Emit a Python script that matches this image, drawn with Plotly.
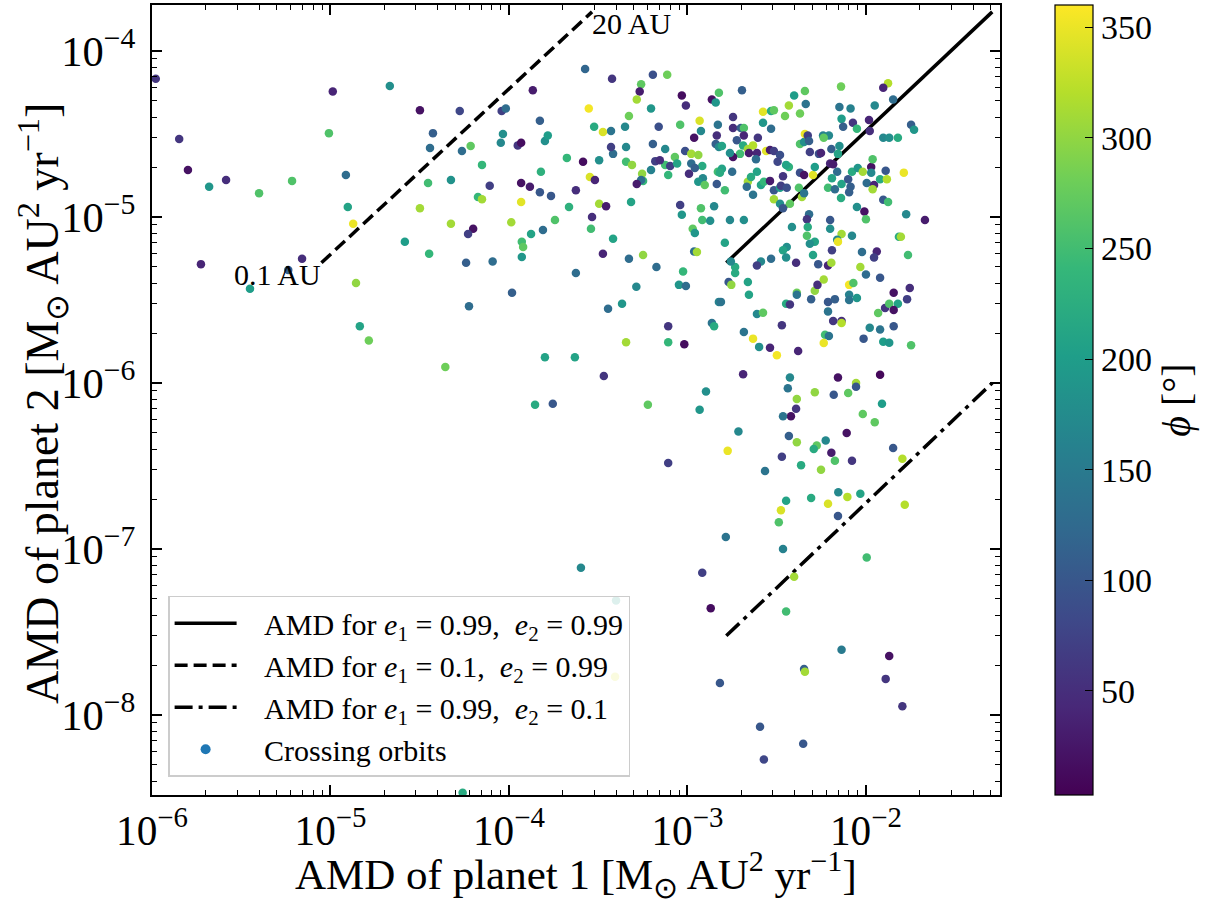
import math
import plotly.graph_objects as go

# AMD of planet 1 (x), AMD of planet 2 (y), phase angle phi (colour)
amd1 = [
    1.05e-6, 1.42e-6, 1.59e-6, 2.09e-6, 2.6e-6, 3.98e-6, 6.09e-6, 1.03e-5, 9.8e-6, 1.22e-5,
    1.25e-5, 1.34e-5, 2.15e-5, 3.17e-5, 3.75e-5, 3.61e-5, 3.52e-5, 3.17e-5, 2.61e-5, 3.57e-5,
    1.88e-6, 6.93e-6, 5.8e-6, 3.54e-6, 1.39e-5, 1.46e-5, 1.64e-5, 2.67e-4, 3.78e-4, 6.4e-4,
    7.7e-4, 5.5e-4, 5.4e-4, 5.2e-4, 4.7e-4, 6.25e-4, 9.3e-4, 9.8e-4, 1.37e-3, 1.44e-3,
    1.17e-3, 9.1e-4, 6.9e-4, 4.47e-4, 3.73e-4, 3.36e-4, 3.0e-4, 2.8e-4, 1.36e-4, 9.1e-5,
    9.6e-5, 5.3e-5, 1.49e-4, 5.45e-5, 6.1e-5, 9.0e-5, 9.25e-5, 1.12e-4, 1.17e-4, 1.59e-4,
    1.65e-4, 7.06e-5, 4.73e-5, 7.8e-5, 1.17e-4, 1.31e-4, 1.49e-4, 1.72e-4, 1.51e-4, 2.11e-4,
    2.6e-4, 3.2e-4, 3.83e-4, 3.73e-4, 4.53e-4, 4.53e-4, 4.89e-4, 5.57e-4, 6.25e-4, 6.4e-4,
    7.5e-4, 9.7e-4, 1.05e-3, 1.15e-3, 1.05e-3, 1.21e-3, 1.1e-3, 1.02e-3, 8.5e-4, 7.5e-4,
    6.6e-4, 7.0e-4, 8.0e-4, 8.75e-4, 7.8e-4, 1.22e-3, 1.15e-3, 1.25e-3, 1.46e-3, 1.48e-3,
    1.48e-3, 1.46e-3, 1.44e-3, 1.5e-3, 1.5e-3, 1.09e-3, 1.19e-3, 5.64e-4, 5.5e-4, 5.2e-4,
    2.84e-4, 3.03e-4, 2.37e-4, 4.83e-4, 3.2e-4, 3.5e-4, 2.17e-4, 1.81e-4, 1.17e-4, 1.03e-4,
    6.7e-5, 7.06e-5, 4.73e-5, 6.3e-5, 5.9e-5, 1.18e-4, 1.2e-4, 1.33e-4, 1.55e-4, 1.18e-4,
    8.1e-5, 5.75e-5, 2.92e-4, 2.88e-4, 3.83e-4, 3.36e-4, 4.7e-4, 5.64e-4, 9.1e-4, 9.3e-4,
    1.19e-3, 1.21e-3, 1.34e-3, 1.41e-3, 1.07e-3, 1.1e-3, 1.09e-3, 1.13e-3, 6.7e-4, 9.45e-4,
    2.37e-4, 8.96e-4, 9.8e-4, 5.17e-4, 1.04e-4, 5.97e-5, 3.59e-4, 4.3e-4, 1.5e-3, 7.8e-4,
    1.37e-3, 1.41e-3, 4.53e-4, 7.8e-4, 9.6e-4, 1.59e-4, 2.34e-4, 4.4e-5, 3.4e-4, 1.27e-3,
    1.4e-4, 1.76e-4, 6.0e-4, 1.17e-3, 7.8e-4, 2.53e-4, 3.98e-4, 1.21e-3, 1.35e-3, 3.93e-4,
    5.5e-5, 1.52e-3, 2.02e-3, 2.65e-3, 2.94e-3, 3.05e-3, 3.7e-3, 3.52e-3, 3.96e-3, 4.55e-3,
    4.6e-3, 4.27e-3, 7.25e-3, 1.33e-2, 1.25e-2, 1.42e-2, 1.12e-2, 7.1e-3, 8.2e-3, 7.3e-3,
    8.45e-3, 1.04e-2, 1.05e-2, 8.9e-3, 7.45e-3, 1.79e-2, 1.86e-2, 1.25e-2, 1.35e-2, 1.51e-2,
    1.8e-3, 1.8e-3, 1.99e-3, 2.07e-3, 2.65e-3, 2.94e-3, 2.07e-3, 1.89e-3, 2.48e-3, 1.56e-3,
    2.05e-3, 2.18e-3, 2.33e-3, 2.45e-3, 2.21e-3, 2.76e-3, 2.9e-3, 3.05e-3, 3.3e-3, 3.2e-3,
    2.42e-3, 1.97e-3, 1.8e-3, 1.73e-3, 1.56e-3, 1.52e-3, 1.78e-3, 1.62e-3, 1.73e-3, 2.07e-3,
    1.62e-3, 1.85e-3, 1.75e-3, 2.18e-3, 2.27e-3, 2.45e-3, 2.15e-3, 2.33e-3, 2.58e-3, 2.68e-3,
    2.9e-3, 3.43e-3, 3.7e-3, 3.57e-3, 3.05e-3, 3.3e-3, 3.34e-3, 3.6e-3, 3.05e-3, 3.3e-3,
    3.43e-3, 3.75e-3, 4.21e-3, 4.38e-3, 4.5e-3, 4.27e-3, 4.5e-3, 5.05e-3, 5.17e-3, 4.8e-3,
    4.67e-3, 4.72e-3, 4.67e-3, 3.85e-3, 4.27e-3, 4.5e-3, 4.55e-3, 4.72e-3, 4.8e-3, 4.85e-3,
    5.45e-3, 5.6e-3, 5.75e-3, 6.2e-3, 5.8e-3, 6.4e-3, 7.1e-3, 6.97e-3, 6.3e-3, 6.55e-3,
    6.9e-3, 6.45e-3, 6.13e-3, 6.7e-3, 7.3e-3, 7.95e-3, 8.35e-3, 9.0e-3, 9.6e-3, 1.07e-2,
    1.09e-2, 1.07e-2, 8.2e-3, 8.05e-3, 7.25e-3, 1.01e-2, 1.11e-2, 1.09e-2, 1.2e-2, 1.29e-2,
    1.31e-2, 1.63e-2, 8.9e-3, 9.8e-3, 1.0e-2, 1.25e-2, 1.33e-2, 1.68e-2, 2.14e-2, 6.3e-3,
    6.3e-3, 7.3e-3, 6.9e-3, 6.97e-3, 8.35e-3, 6.45e-3, 5.17e-3, 4.85e-3, 5.05e-3, 5.4e-3,
    6.13e-3, 6.4e-3, 9.3e-3, 9.5e-3, 1.15e-2, 1.11e-2, 1.53e-2, 1.57e-2, 1.72e-2, 3.6e-3,
    3.43e-3, 3.57e-3, 4.06e-3, 2.94e-3, 2.58e-3, 2.45e-3, 1.85e-3, 1.7e-3, 1.76e-3, 2.18e-3,
    2.21e-3, 1.54e-3, 2.45e-3, 2.65e-3, 2.07e-3, 2.33e-3, 2.52e-3, 2.9e-3, 3.17e-3, 4.17e-3,
    3.38e-3, 3.57e-3, 3.75e-3, 4.1e-3, 4.1e-3, 4.93e-3, 5.17e-3, 5.35e-3, 5.8e-3, 6.13e-3,
    6.7e-3, 6.13e-3, 6.55e-3, 7.3e-3, 7.3e-3, 5.9e-3, 6.2e-3, 5.8e-3, 8.05e-3, 8.5e-3,
    8.05e-3, 8.05e-3, 8.9e-3, 1.0e-2, 1.2e-2, 1.05e-2, 1.2e-2, 9.7e-3, 1.25e-2, 1.35e-2,
    1.17e-2, 1.28e-2, 1.35e-2, 1.43e-2, 1.51e-2, 1.43e-2, 1.7e-2, 1.76e-2, 1.43e-2, 1.79e-2,
    2.05e-3, 3.75e-3, 3.65e-3, 4.1e-3, 4.06e-3, 3.8e-3, 3.43e-3, 5.17e-3, 6.97e-3, 6.6e-3,
    7.95e-3, 8.8e-3, 8.8e-3, 1.2e-2, 1.23e-2, 9.6e-3, 1.12e-2, 1.93e-3, 3.7e-3, 4.1e-3,
    5.3e-3, 5.1e-3, 5.95e-3, 7.8e-3, 6.4e-3, 6.7e-3, 8.35e-3, 5.6e-3, 4.33e-3, 3.38e-3,
    2.72e-3, 1.68e-3, 1.42e-2, 1.6e-2, 7.0e-3, 7.87e-3, 9.3e-3, 4.93e-3, 6.13e-3, 3.57e-3,
    3.34e-3, 3.25e-3, 6.97e-3, 1.65e-2, 1.64e-3, 3.43e-3, 1.01e-2, 3.96e-3, 3.57e-3, 7.3e-3,
    1.35e-2, 4.5e-3, 4.55e-3, 1.29e-2, 1.6e-2, 2.55e-3, 4.45e-3, 2.68e-3,
]
amd2 = [
    6.8e-5, 2.95e-5, 1.92e-5, 1.52e-5, 1.67e-5, 1.39e-5, 1.65e-5, 5.7e-5, 3.2e-5, 1.79e-5,
    1.15e-5, 9.1e-6, 6.15e-5, 4.4e-5, 3.2e-5, 2.6e-5, 1.6e-5, 1.13e-5, 7.1e-6, 6.0e-6,
    5.2e-6, 5.6e-6, 4.8e-6, 3.7e-6, 4.0e-6, 2.2e-6, 1.8e-6, 7.8e-5, 6.8e-5, 7.2e-5,
    7.2e-5, 6.3e-5, 5.7e-5, 5.1e-5, 4.06e-5, 4.5e-5, 5.4e-5, 4.7e-5, 5.1e-5, 4.9e-5,
    3.8e-5, 3.6e-5, 3.5e-5, 3.5e-5, 3.3e-5, 3.25e-5, 3.5e-5, 4.5e-5, 5.8e-5, 4.35e-5,
    4.5e-5, 4.35e-5, 3.8e-5, 2.5e-5, 2.68e-5, 2.8e-5, 3.16e-5, 2.7e-5, 2.8e-5, 2.87e-5,
    3.1e-5, 2.06e-5, 1.67e-5, 1.54e-5, 1.6e-5, 1.52e-5, 1.41e-5, 1.34e-5, 1.87e-5, 2.27e-5,
    2.15e-5, 2.2e-5, 2.4e-5, 2.64e-5, 2.64e-5, 2.15e-5, 2.06e-5, 1.82e-5, 1.92e-5, 2.75e-5,
    2.57e-5, 2.5e-5, 2.4e-5, 2.36e-5, 2.1e-5, 2.03e-5, 1.97e-5, 1.82e-5, 2.3e-5, 2.06e-5,
    2.17e-5, 2.2e-5, 2.03e-5, 2.1e-5, 1.79e-5, 1.71e-5, 1.63e-5, 1.56e-5, 1.58e-5, 1.87e-5,
    3.6e-5, 3.1e-5, 2.75e-5, 2.64e-5, 5.6e-5, 3.0e-5, 3.3e-5, 1.65e-5, 1.67e-5, 1.58e-5,
    1.74e-5, 1.67e-5, 1.45e-5, 1.23e-5, 1.2e-5, 1.16e-5, 1.15e-5, 9.6e-6, 1.23e-5, 9.3e-6,
    1.32e-5, 1.28e-5, 9.1e-6, 8.5e-6, 7.9e-6, 7.1e-6, 6.6e-6, 7.9e-6, 8.35e-6, 5.74e-6,
    5.4e-6, 5.3e-6, 1.0e-5, 8.5e-6, 7.4e-6, 6.0e-6, 5.6e-6, 5.9e-6, 1.18e-5, 1.03e-5,
    1.13e-5, 9.6e-6, 9.5e-6, 1.16e-5, 8.5e-6, 8.0e-6, 6.2e-6, 6.15e-6, 5.0e-6, 4.7e-6,
    4.6e-6, 3.9e-6, 3.84e-6, 3.8e-6, 3.5e-6, 2.9e-6, 2.8e-6, 3.0e-6, 3.08e-6, 2.2e-6,
    2.3e-6, 2.2e-6, 1.76e-6, 1.76e-6, 1.71e-6, 1.43e-6, 1.43e-6, 1.25e-6, 1.1e-6, 8.9e-7,
    7.4e-7, 7.5e-7, 7.4e-7, 6.9e-7, 3.3e-7, 7.7e-8, 4.9e-8, 7.2e-8, 4.4e-8, 1.7e-8,
    3.4e-9, 1.56e-8, 5.8e-5, 4.3e-5, 4.35e-5, 4.4e-5, 4.7e-5, 4.06e-5, 5.4e-5, 5.74e-5,
    4.8e-5, 4.2e-5, 6.1e-5, 6.4e-5, 6.0e-5, 5.1e-5, 4.7e-5, 4.6e-5, 4.5e-5, 3.9e-5,
    3.7e-5, 3.84e-5, 3.3e-5, 3.4e-5, 3.5e-5, 3.6e-5, 3.35e-5, 3.0e-5, 3.0e-5, 3.0e-5,
    4.0e-5, 3.44e-5, 3.44e-5, 3.44e-5, 3.7e-5, 3.4e-5, 3.1e-5, 2.9e-5, 3.0e-5, 2.68e-5,
    2.7e-5, 2.57e-5, 2.7e-5, 2.43e-5, 2.43e-5, 2.5e-5, 2.53e-5, 2.5e-5, 2.36e-5, 2.15e-5,
    2.23e-5, 2.4e-5, 2.3e-5, 2.43e-5, 1.95e-5, 1.85e-5, 1.87e-5, 1.45e-5, 9.6e-6, 9.6e-6,
    7.0e-6, 5.0e-6, 5.4e-6, 1.63e-5, 1.74e-5, 1.87e-5, 1.52e-5, 1.36e-5, 1.56e-5, 1.63e-5,
    1.65e-5, 1.76e-5, 2.0e-5, 2.06e-5, 1.45e-5, 1.5e-5, 1.54e-5, 1.5e-5, 1.28e-5, 1.2e-5,
    1.13e-5, 1.2e-5, 1.5e-5, 1.32e-5, 1.39e-5, 1.85e-5, 1.79e-5, 1.79e-5, 2.0e-5, 1.04e-5,
    9.7e-6, 8.7e-6, 7.7e-6, 8.7e-6, 2.75e-5, 2.83e-5, 3.16e-5, 3.1e-5, 2.87e-5, 2.46e-5,
    2.4e-5, 2.43e-5, 3.1e-5, 3.1e-5, 3.0e-5, 2.57e-5, 2.68e-5, 2.4e-5, 2.1e-5, 2.08e-5,
    1.87e-5, 1.71e-5, 1.5e-5, 1.47e-5, 1.58e-5, 1.69e-5, 1.87e-5, 1.97e-5, 1.87e-5, 2.0e-5,
    2.23e-5, 1.85e-5, 1.52e-5, 1.41e-5, 1.3e-5, 1.6e-5, 1.56e-5, 1.47e-5, 1.69e-5, 1.9e-5,
    1.69e-5, 1.85e-5, 1.15e-5, 1.08e-5, 9.7e-6, 1.27e-5, 1.23e-5, 1.04e-5, 9.6e-6, 9.6e-6,
    8.5e-6, 7.9e-6, 7.3e-6, 7.1e-6, 7.7e-6, 6.3e-6, 7.1e-6, 6.9e-6, 5.9e-6, 5.2e-6,
    5.1e-6, 5.3e-6, 5.0e-6, 6.15e-6, 6.2e-6, 5.7e-6, 7.6e-6, 7.6e-6, 5.9e-6, 6.6e-6,
    6.3e-6, 5.7e-6, 5.3e-6, 5.6e-6, 5.4e-6, 5.1e-6, 4.6e-6, 4.06e-6, 3.9e-6, 4.06e-6,
    3.4e-6, 3.08e-6, 2.6e-6, 2.65e-6, 2.03e-6, 1.85e-6, 1.65e-6, 1.63e-6, 1.47e-6, 1.56e-6,
    2.23e-6, 3.0e-6, 2.97e-6, 3.5e-6, 3.4e-6, 3.2e-6, 3.6e-6, 3.9e-6, 4.2e-6, 3.08e-6,
    3.2e-6, 2.7e-6, 2.36e-6, 2.36e-6, 2.3e-6, 1.95e-6, 1.92e-6, 1.74e-6, 3.9e-6, 4.0e-6,
    3.4e-6, 3.16e-6, 3.25e-6, 4.5e-6, 4.3e-6, 2.15e-6, 2.1e-6, 1.85e-6, 1.77e-6, 1.75e-6,
    2.64e-6, 2.83e-6, 3.0e-6, 3.5e-6, 3.0e-6, 2.75e-6, 3.2e-6, 3.73e-6, 2.2e-6, 1.69e-6,
    1.13e-6, 1.08e-6, 9.3e-7, 8.0e-7, 7.0e-7, 6.3e-7, 6.3e-7, 8.8e-7, 1.08e-6, 8.5e-7,
    8.7e-7, 1.0e-6, 9.5e-7, 1.12e-6, 7.5e-7, 6.5e-7, 5.8e-7, 5.1e-7, 4.8e-7, 4.4e-7,
    4.2e-7, 4.0e-7, 4.5e-7, 5.0e-7, 3.8e-7, 3.4e-7, 3.4e-7, 3.0e-7, 3.2e-7, 3.6e-7,
    2.95e-7, 3.9e-7, 4.06e-7, 3.5e-7, 2.2e-7, 2.06e-7, 2.15e-7, 2.03e-7, 1.87e-7, 1.95e-7,
    1.71e-7, 1.45e-7, 1.58e-7, 1.85e-7, 1.18e-7, 1.0e-7, 8.9e-8, 6.8e-8, 4.2e-8, 2.47e-8,
    2.27e-8, 1.89e-8, 1.82e-8, 1.65e-8, 1.13e-8, 8.5e-9, 6.7e-9, 5.4e-9,
]
phi = [
    60, 60, 20, 190, 50, 260, 260, 40, 260, 130,
    210, 350, 180, 20, 110, 130, 250, 310, 200, 240,
    40, 50, 110, 200, 300, 210, 280, 120, 60, 90,
    280, 270, 30, 310, 280, 190, 15, 50, 20, 190,
    340, 260, 90, 170, 140, 340, 220, 355, 30, 70,
    130, 80, 110, 130, 270, 170, 180, 60, 15, 180,
    200, 240, 185, 70, 20, 30, 100, 100, 230, 240,
    15, 180, 130, 70, 170, 250, 300, 300, 160, 110,
    170, 90, 310, 300, 130, 220, 110, 50, 270, 250,
    70, 50, 70, 210, 240, 170, 190, 270, 100, 250,
    140, 50, 110, 170, 260, 20, 170, 240, 130, 30,
    340, 40, 50, 210, 310, 30, 230, 260, 345, 310,
    240, 310, 310, 20, 70, 250, 270, 210, 130, 190,
    130, 110, 50, 250, 210, 40, 130, 300, 70, 190,
    260, 250, 180, 170, 270, 190, 130, 310, 130, 240,
    130, 190, 130, 170, 110, 130, 130, 190, 160, 60,
    140, 220, 310, 240, 15, 210, 210, 280, 60, 180,
    220, 100, 270, 190, 70, 170, 200, 70, 15, 340,
    220, 100, 110, 345, 220, 270, 310, 280, 200, 270,
    140, 280, 280, 320, 40, 130, 170, 140, 160, 200,
    60, 40, 50, 240, 110, 110, 190, 170, 180, 220,
    60, 50, 110, 260, 190, 130, 40, 100, 60, 210,
    220, 310, 320, 40, 30, 345, 30, 70, 90, 80,
    130, 250, 20, 180, 210, 220, 130, 250, 170, 180,
    210, 220, 170, 310, 220, 210, 130, 140, 210, 240,
    30, 60, 230, 210, 100, 200, 70, 90, 310, 180,
    100, 270, 260, 310, 140, 90, 20, 345, 200, 130,
    60, 220, 260, 180, 260, 180, 350, 70, 110, 70,
    90, 40, 160, 170, 270, 110, 180, 210, 40, 30,
    130, 210, 250, 130, 210, 100, 220, 190, 310, 20,
    260, 170, 110, 110, 220, 130, 40, 310, 220, 100,
    320, 350, 180, 20, 260, 100, 250, 170, 30, 100,
    180, 310, 170, 350, 170, 70, 210, 180, 210, 100,
    40, 310, 310, 130, 40, 70, 220, 310, 250, 180,
    210, 180, 50, 130, 170, 70, 220, 100, 300, 210,
    210, 140, 170, 270, 140, 350, 180, 40, 355, 40,
    60, 220, 60, 280, 140, 110, 300, 50, 310, 100,
    110, 140, 60, 50, 320, 250, 140, 350, 355, 260,
    160, 140, 190, 130, 100, 170, 140, 100, 200, 190,
    270, 60, 260, 20, 210, 20, 70, 50, 100, 260,
    40, 170, 140, 300, 60, 20, 140, 300, 20, 100,
    270, 310, 100, 10, 200, 270, 270, 170, 110, 300,
    270, 220, 170, 20, 30, 260, 60, 300, 220, 70,
    140, 350, 100, 320, 170, 320, 210, 220, 340, 210,
    340, 260, 100, 320, 140, 160, 250, 310, 250, 150,
    20, 110, 310, 60, 60, 100, 100, 80,
]
assert len(amd1) == len(amd2) == len(phi)

# AMD limit curves (0.1 AU -> 20 AU)
solid_x = [1.65e-3, 5.1e-2]
solid_y = [5.3e-6, 1.72e-4]
dashed_x = [8.9e-6, 2.92e-4]
dashed_y = [5.3e-6, 1.72e-4]
dashdot_x = [1.65e-3, 5.1e-2]
dashdot_y = [3.0e-8, 1.0e-6]
end_labels = ["0.1 AU", "20 AU"]

legend_names = [
    "AMD for <i>e</i><sub>1</sub> = 0.99,  <i>e</i><sub>2</sub> = 0.99",
    "AMD for <i>e</i><sub>1</sub> = 0.1,  <i>e</i><sub>2</sub> = 0.99",
    "AMD for <i>e</i><sub>1</sub> = 0.99,  <i>e</i><sub>2</sub> = 0.1",
    "Crossing orbits",
]
x_title = "AMD of planet 1 [M<sub>⊙</sub> AU<sup>2</sup> yr<sup>−1</sup>]"
y_title = "AMD of planet 2 [M<sub>⊙</sub> AU<sup>2</sup> yr<sup>−1</sup>]"

FONT = "Liberation Serif"
PAD = "\u00a0\u00a0\u00a0"  # gap between legend symbol and text

fig = go.Figure()
fig.add_trace(go.Scatter(x=solid_x, y=solid_y, mode="lines", name=PAD + legend_names[0],
                         line=dict(color="black", width=3.5)))
fig.add_trace(go.Scatter(x=dashed_x, y=dashed_y, mode="lines", name=PAD + legend_names[1],
                         line=dict(color="black", width=3.5, dash="13px,6px")))
fig.add_trace(go.Scatter(x=dashdot_x, y=dashdot_y, mode="lines", name=PAD + legend_names[2],
                         line=dict(color="black", width=3.5, dash="18px,6px,4px,6px")))
fig.add_trace(go.Scatter(
    x=amd1, y=amd2, mode="markers", showlegend=False,
    marker=dict(size=8.5, color=phi, colorscale="Viridis", cmin=3, cmax=360,
                line=dict(width=0),
                colorbar=dict(
                    x=1.065, xanchor="left", y=0.5, yanchor="middle",
                    len=1.0, lenmode="fraction", thickness=38, thicknessmode="pixels",
                    xpad=0, ypad=0, outlinecolor="black", outlinewidth=1.2,
                    ticks="inside", ticklen=8, tickwidth=1.2, tickcolor="black",
                    tickvals=[50, 100, 150, 200, 250, 300, 350],
                    tickfont=dict(family=FONT, size=34, color="black"),
                    title=dict(text="<i>ϕ</i> [°]", side="right",
                               font=dict(family=FONT, size=40, color="black")),
                ))))
fig.add_trace(go.Scatter(x=[None], y=[None], mode="markers", name=PAD + legend_names[3],
                         marker=dict(size=10, color="#1f77b4")))

# annotations on log axes use log10 coordinates
fig.add_annotation(x=math.log10(dashed_x[0]), y=math.log10(dashed_y[0]), xref="x", yref="y",
                   text=end_labels[0], showarrow=False, xanchor="right", yanchor="top",
                   xshift=2, yshift=7, font=dict(family=FONT, size=30, color="black"))
fig.add_annotation(x=math.log10(dashed_x[1]), y=math.log10(dashed_y[1]), xref="x", yref="y",
                   text=end_labels[1], showarrow=False, xanchor="left", yanchor="top",
                   xshift=-2, yshift=7, font=dict(family=FONT, size=30, color="black"))

# axis titles placed as paper annotations for precise placement
fig.add_annotation(x=0.5, y=-0.101, xref="paper", yref="paper", text=x_title,
                   showarrow=False, xanchor="center", yanchor="middle",
                   font=dict(family=FONT, size=43, color="black"))
fig.add_annotation(x=-0.13, y=0.496, xref="paper", yref="paper", text=y_title,
                   showarrow=False, xanchor="center", yanchor="middle", textangle=-90,
                   font=dict(family=FONT, size=46, color="black"))

axis_common = dict(
    type="log", showline=True, linecolor="black", linewidth=1.5, mirror="allticks",
    ticks="inside", ticklen=10, tickwidth=1.5, tickcolor="black", dtick=1,
    exponentformat="power", showgrid=False, zeroline=False,
    minor=dict(ticks="inside", ticklen=5, tickwidth=1, tickcolor="black", showgrid=False),
    tickfont=dict(family=FONT, size=34, color="black"),
)
fig.update_xaxes(**axis_common, range=[-6, -1.249], ticklabelstandoff=0)
fig.update_xaxes(tickfont=dict(family=FONT, size=33, color="black"))
fig.update_yaxes(**axis_common, range=[-8.482, -3.723], ticklabelstandoff=8)

fig.update_layout(
    width=1221, height=909,
    margin=dict(l=152, r=221, t=5, b=114, autoexpand=False),
    paper_bgcolor="white", plot_bgcolor="white",
    legend=dict(x=0.019, y=0.023, xanchor="left", yanchor="bottom",
                bgcolor="rgba(255,255,255,0.85)", bordercolor="#cccccc", borderwidth=1.5,
                font=dict(family=FONT, size=30, color="black"), traceorder="normal",
                tracegroupgap=0, itemwidth=62),
)

fig.write_html("out.html")
